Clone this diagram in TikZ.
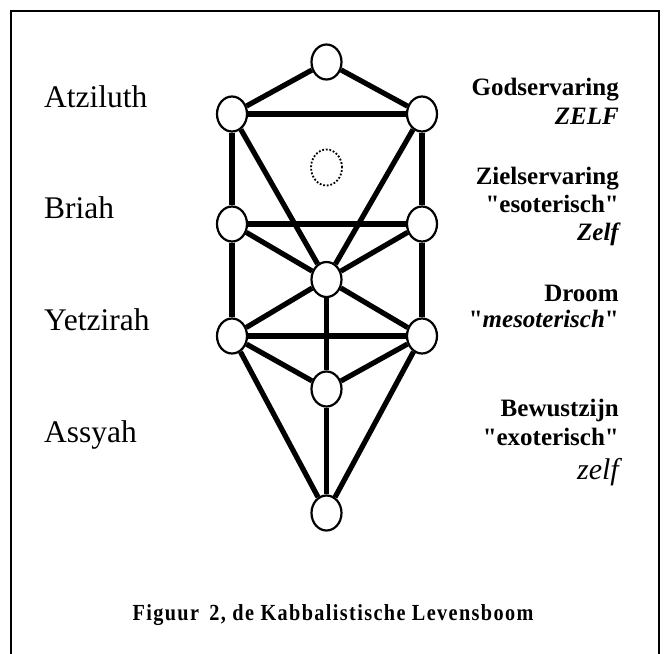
\documentclass[tikz,border=0pt]{standalone}
\usepackage{fontspec}
\setmainfont{Liberation Serif}[Ligatures=TeXOff]
\usetikzlibrary{shapes.geometric}
\newcommand{\dq}{\char34\relax}

\begin{document}
\begin{tikzpicture}[x=1pt,y=-1pt,
  sefira/.style={ellipse,draw,fill=white,line width=2.2pt,inner sep=0pt,
    minimum width=30pt,minimum height=35pt},
  pad/.style={line width=5.2pt},
  world/.style={anchor=base west,inner sep=0pt,font=\fontsize{31.5}{36}\selectfont},
  ervaring/.style={anchor=base east,inner sep=0pt,font=\fontsize{25}{28}\selectfont\bfseries}]
  \useasboundingbox (0,0) rectangle (665,654);
  \clip (0,0) rectangle (665,654);

  % frame
  \draw[line width=1.6pt] (11,680) -- (11,11) -- (659,11) -- (659,680);

  % the ten sefirot and daath
  \node[sefira] (kether) at (326.5,62) {};
  \node[sefira] (binah) at (232,114) {};
  \node[sefira] (chokmah) at (422,114) {};
  \node[ellipse,draw,line width=1.8pt,dash pattern=on 1.8pt off 1.8pt,inner sep=0pt,
    minimum width=31pt,minimum height=36pt] (daath) at (326.5,167.5) {};
  \node[sefira] (geburah) at (232,224) {};
  \node[sefira] (chesed) at (422,224) {};
  \node[sefira] (tiphareth) at (326.5,279.5) {};
  \node[sefira] (hod) at (232,336) {};
  \node[sefira] (netzach) at (422,336) {};
  \node[sefira] (yesod) at (326.5,389) {};
  \node[sefira] (malkuth) at (326.5,513) {};

  % paths
  \foreach \a/\b in {kether/binah,kether/chokmah,binah/chokmah,binah/geburah,
      chokmah/chesed,binah/tiphareth,chokmah/tiphareth,geburah/chesed,
      geburah/tiphareth,chesed/tiphareth,geburah/hod,chesed/netzach,
      hod/tiphareth,netzach/tiphareth,hod/netzach,hod/yesod,netzach/yesod,
      hod/malkuth,netzach/malkuth,yesod/malkuth}
    \draw[pad] (\a) -- (\b);
  \draw[pad,line width=4.2pt] (tiphareth) -- (yesod);

  % worlds
  \node[world] (atziluth) at (44,107) {Atziluth};
  \node[world] (briah) at (44,218) {Briah};
  \node[world] (yetzirah) at (44,330) {Yetzirah};
  \node[world] (assyah) at (44,442) {Assyah};

  % ervaringen
  \node[ervaring] (god) at (619,95.5) {Godservaring};
  \node[ervaring] (zelfa) at (619,124) {\itshape ZELF};
  \node[ervaring] (ziel) at (619,184) {Zielservaring};
  \node[ervaring] (eso) at (619,212) {\dq esoterisch\dq};
  \node[ervaring] (zelfb) at (619,240.5) {\itshape Zelf};
  \node[ervaring] (droom) at (619,301.5) {Droom};
  \node[ervaring] (meso) at (619,327.5) {\dq\textit{mesoterisch}\dq};
  \node[ervaring] (bewust) at (619,416.5) {Bewustzijn};
  \node[ervaring] (exo) at (619,445) {\dq exoterisch\dq};
  \node[ervaring,font=\fontsize{30}{34}\selectfont\itshape] (zelfc) at (619,479) {zelf};

  % caption
  \node[anchor=base,inner sep=0pt,
    font=\fontsize{23}{26}\selectfont\bfseries\addfontfeatures{FakeStretch=0.88,LetterSpace=6}]
    (figuur) at (333,620) {Figuur\hspace{4pt} 2, de Kabbalistische Levensboom};
\end{tikzpicture}
\end{document}
